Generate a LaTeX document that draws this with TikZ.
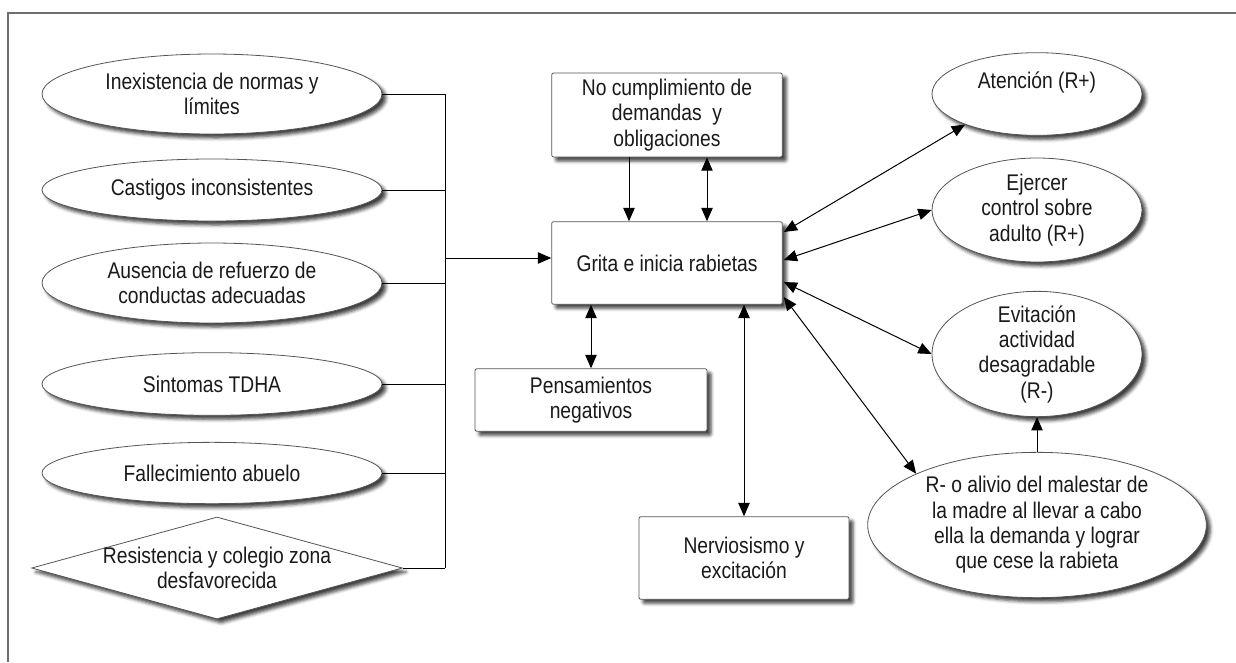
\documentclass[tikz,border=0pt]{standalone}
\usepackage{fontspec}
\setmainfont[FakeStretch=0.85]{Liberation Sans}
\usetikzlibrary{arrows.meta,shapes.geometric,calc,shadows.blur}
\definecolor{txt}{HTML}{1A1A1A}
\definecolor{bordercol}{HTML}{555555}
\definecolor{framecol}{HTML}{6E6E6E}
\begin{document}
\begin{tikzpicture}[x=0.75pt,y=-0.75pt,
  every node/.style={font=\fontsize{17}{19}\selectfont, text=txt},
  shp/.style={draw=bordercol, line width=0.6pt, fill=white, inner sep=0pt,
    blur shadow={shadow xshift=3pt, shadow yshift=-3pt, shadow blur radius=2.5pt, shadow opacity=75}},
  oval/.style={shp, ellipse},
  box/.style={shp, rectangle, rounded corners=1.5pt},
  lab/.style={align=center},
  wire/.style={line width=0.75pt},
  arr/.style={wire, -{Triangle[length=10pt,width=8.5pt]}},
  darr/.style={wire, {Triangle[length=10pt,width=8.5pt]}-{Triangle[length=10pt,width=8.5pt]}}]
\useasboundingbox (0,0) rectangle (1236,662);
\draw[framecol, line width=1.2pt] (8,662) -- (8,13) -- (1236,13);

% left causes
\node[oval, minimum width=255pt, minimum height=60pt, label={[lab]center:Inexistencia de normas y\\límites}] (e1) at (212,94) {};
\node[oval, minimum width=255pt, minimum height=46.5pt, label={[lab]center:Castigos inconsistentes}] (e2) at (212,190) {};
\node[oval, minimum width=255pt, minimum height=60pt, label={[lab]center:Ausencia de refuerzo de\\conductas adecuadas}] (e3) at (212,283) {};
\node[oval, minimum width=255pt, minimum height=47pt, label={[lab]center:Sintomas TDHA}] (e4) at (212,384) {};
\node[oval, minimum width=255pt, minimum height=46pt, label={[lab]center:Fallecimiento abuelo}] (e5) at (212,473) {};
\node[shp, diamond, minimum width=278pt, minimum height=76.5pt, label={[lab]center:Resistencia y colegio zona\\desfavorecida}] (d) at (217,568) {};

% central boxes
\node[box, minimum width=173pt, minimum height=62pt, label={[lab]center:Grita e inicia rabietas}] (G) at (667,263) {};
\node[box, minimum width=173pt, minimum height=63pt, label={[lab]center:No cumplimiento de\\demandas\ \ y\\obligaciones}] (N) at (667,115) {};
\node[box, minimum width=174pt, minimum height=47pt, label={[lab]center:Pensamientos\\negativos}] (P) at (591,400) {};
\node[box, minimum width=157.5pt, minimum height=62pt, label={[lab]center:Nerviosismo y\\excitación}] (V) at (744,558) {};

% right consequences
\node[oval, minimum width=157.5pt, minimum height=62pt, label={[lab,yshift=9pt]center:Atención (R+)}] (A) at (1037,94) {};
\node[oval, minimum width=157.5pt, minimum height=78pt, label={[lab]center:Ejercer\\control sobre\\adulto (R+)}] (E) at (1037,210) {};
\node[oval, minimum width=157.5pt, minimum height=94pt, label={[lab]center:Evitación\\actividad\\desagradable\\(R-)}] (T) at (1037,354) {};
\node[oval, minimum width=254pt, minimum height=109pt, label={[lab]center:R- o alivio del malestar de\\la madre al llevar a cabo\\ella la demanda y lograr\\que cese la rabieta}] (R) at (1037,525) {};

% bus from causes
\coordinate (bx) at (445,258);
\foreach \n in {e1,e2,e3,e4,e5,d} \draw[wire] (\n.east) -- (\n.east -| bx);
\draw[wire] (bx |- e1.east) -- (bx |- d.east);
\draw[arr] (bx) -- (bx -| G.west);

% vertical links
\coordinate (c1) at (629,0);
\coordinate (c2) at (707,0);
\coordinate (c3) at (591,0);
\coordinate (c4) at (744,0);
\draw[arr] (N.south -| c1) -- (G.north -| c1);
\draw[darr] (N.south -| c2) -- (G.north -| c2);
\draw[darr] (G.south -| c3) -- (P.north);
\draw[darr] (G.south -| c4) -- (V.north);

% right links
\draw[darr] ($(G.east)+(1,-31)$) -- (A.203);
\draw[darr] ($(G.east)+(1,-3)$) -- (E.west);
\draw[darr] ($(G.east)+(1,19)$) -- (T.west);
\draw[darr] ($(G.east)+(1,34)$) -- (R.157);
\draw[arr] (R.north) -- (T.south);
\end{tikzpicture}
\end{document}
